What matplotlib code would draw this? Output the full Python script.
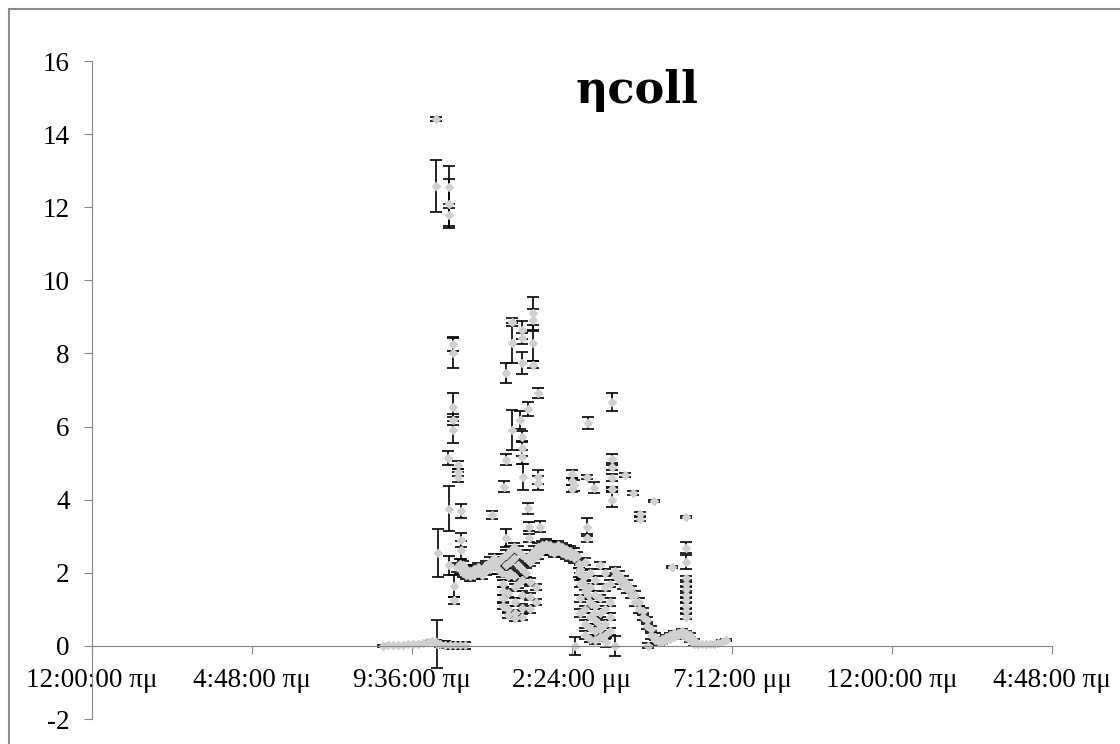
import matplotlib
matplotlib.use("Agg")
from matplotlib import pyplot as plt
from matplotlib.patches import Rectangle

plt.rcParams["font.family"] = "Liberation Serif"
plt.rcParams["font.size"] = 19.5
plt.rcParams["axes.unicode_minus"] = False

# time axis in hours from midnight, Excel style labels
tick_hours = [0, 4.8, 9.6, 14.4, 19.2, 24.0, 28.8]
tick_labels = ["12:00:00 πμ", "4:48:00 πμ", "9:36:00 πμ", "2:24:00 μμ",
               "7:12:00 μμ", "12:00:00 πμ", "4:48:00 πμ"]
y_ticks = [-2, 0, 2, 4, 6, 8, 10, 12, 14, 16]

# isolated readings (hour, ηcoll, error half width)
spot_h = [10.32, 10.32, 10.71, 10.71, 10.71, 10.83, 10.83, 10.83, 10.83, 10.83,
          10.68, 10.97, 10.97, 10.97, 10.71, 11.06, 10.38, 11.06, 11.06, 10.71,
          10.86, 10.86, 10.35, 12.00, 12.36, 12.42, 12.42, 12.42, 12.60, 12.60,
          12.60, 12.84, 12.90, 12.90, 12.90, 12.90, 12.90, 12.90, 12.93, 13.08,
          13.08, 13.11, 13.11, 13.23, 13.23, 13.23, 13.23, 13.38, 13.38, 13.38,
          13.43, 14.40, 14.40, 14.40, 14.46, 14.88, 14.85, 14.85, 14.85, 15.06,
          15.60, 15.60, 15.60, 15.60, 15.60, 15.60, 15.60, 15.98, 16.22, 16.43,
          16.43, 16.86, 17.82, 17.82, 17.82, 17.82, 17.82, 17.82, 17.82, 17.82,
          17.82, 17.82, 17.82, 17.40, 14.49, 15.69, 16.68]
spot_eta = [14.41, 12.58, 12.55, 12.10, 11.80, 8.26, 8.01, 6.54, 6.18, 5.91,
            5.14, 4.95, 4.75, 4.62, 3.75, 3.69, 2.54, 2.90, 2.63, 2.20,
            1.64, 1.25, 0.05, 3.58, 4.35, 7.47, 5.09, 2.95, 8.86, 8.29,
            5.91, 6.18, 8.64, 8.42, 7.74, 5.72, 5.40, 5.17, 4.62, 6.48,
            3.77, 3.26, 2.95, 9.10, 8.92, 8.29, 7.69, 6.92, 4.62, 4.46,
            3.26, 4.70, 4.50, 4.30, 4.40, 6.10, 4.62, 3.26, 2.95, 4.32,
            6.67, 5.10, 4.90, 4.60, 4.30, 4.28, 4.00, 4.68, 4.18, 3.60,
            3.47, 3.97, 3.53, 2.68, 2.30, 1.85, 1.70, 1.55, 1.40, 1.25,
            1.10, 0.95, 0.80, 2.16, 0.00, 0.00, 0.00]
spot_err = [0.05, 0.72, 0.58, 0.67, 0.30, 0.20, 0.40, 0.38, 0.15, 0.36,
            0.20, 0.12, 0.10, 0.15, 0.62, 0.18, 0.65, 0.20, 0.25, 0.25,
            0.30, 0.10, 0.65, 0.10, 0.15, 0.27, 0.15, 0.25, 0.12, 0.55,
            0.55, 0.25, 0.25, 0.15, 0.30, 0.15, 0.20, 0.20, 0.35, 0.18,
            0.15, 0.12, 0.12, 0.45, 0.30, 0.50, 0.10, 0.14, 0.20, 0.20,
            0.15, 0.12, 0.10, 0.10, 0.15, 0.17, 0.05, 0.25, 0.10, 0.15,
            0.25, 0.15, 0.10, 0.10, 0.05, 0.04, 0.20, 0.06, 0.06, 0.05,
            0.05, 0.03, 0.03, 0.15, 0.20, 0.06, 0.06, 0.06, 0.06, 0.06,
            0.06, 0.06, 0.06, 0.03, 0.25, 0.27, 0.07]

# scattered readings below the midday plateau
low_h = [12.33, 12.33, 12.33, 12.33, 12.48, 12.48, 12.48, 12.48,
         12.69, 12.69, 12.69, 12.69, 12.90, 12.90, 12.90, 12.90,
         13.14, 13.14, 13.14, 13.32, 13.32,
         14.64, 14.64, 14.64, 14.64, 14.79, 14.79, 14.79, 14.79, 14.79, 14.79,
         14.94, 14.94, 14.94, 14.94, 14.94, 14.94, 15.09, 15.09, 15.09, 15.09,
         15.09, 15.09, 15.24, 15.24, 15.24, 15.24, 15.24, 15.39, 15.39, 15.39,
         15.39, 15.39, 15.54, 15.54, 15.54, 15.54]
low_eta = [1.70, 1.50, 1.30, 1.10, 1.90, 1.45, 1.00, 0.85,
           1.60, 1.20, 0.90, 0.75, 1.80, 1.40, 1.05, 0.80,
           1.75, 1.35, 1.00, 1.60, 1.20,
           2.10, 1.70, 1.30, 0.90, 2.30, 1.90, 1.50, 1.00, 0.60, 0.30,
           2.00, 1.60, 1.20, 0.80, 0.50, 0.20, 1.80, 1.40, 1.10, 0.70,
           0.40, 0.15, 2.20, 1.30, 0.90, 0.50, 0.25, 2.00, 1.60, 1.00,
           0.60, 0.30, 1.70, 1.20, 0.80, 0.40]
low_err = [0.10, 0.10, 0.10, 0.08, 0.10, 0.10, 0.10, 0.08,
           0.10, 0.10, 0.08, 0.08, 0.10, 0.10, 0.10, 0.08,
           0.10, 0.10, 0.10, 0.08, 0.08,
           0.10, 0.10, 0.10, 0.10, 0.10, 0.10, 0.10, 0.10, 0.10, 0.10,
           0.10, 0.10, 0.10, 0.10, 0.10, 0.10, 0.10, 0.10, 0.10, 0.10,
           0.10, 0.10, 0.10, 0.10, 0.10, 0.10, 0.10, 0.10, 0.10, 0.10,
           0.10, 0.10, 0.10, 0.10, 0.10, 0.10]

# dense runs of readings (morning zero, plateau, evening decay, tail)
run_h = [8.73, 8.88, 9.03, 9.18, 9.33, 9.48, 9.63, 9.78, 9.93, 10.08,
         10.20, 10.32, 10.44, 10.59, 10.74, 10.89, 11.03, 11.18,
         10.94, 11.03, 11.03, 11.12, 11.12, 11.21, 11.21, 11.33, 11.33,
         11.46, 11.46, 11.58, 11.58, 11.70, 11.70, 11.82, 11.82, 11.94, 11.94,
         12.06, 12.06, 12.18, 12.18, 12.30, 12.30, 12.42, 12.42,
         12.54, 12.54, 12.54, 12.66, 12.66, 12.66, 12.78, 12.78, 12.78,
         12.90, 12.90, 12.90, 13.02, 13.02, 13.14, 13.14, 13.26, 13.26,
         13.38, 13.38, 13.49, 13.49, 13.61, 13.61, 13.73, 13.73, 13.85, 13.85,
         13.98, 13.98, 14.10, 14.10, 14.22, 14.22, 14.34, 14.34, 14.46, 14.46,
         14.55,
         14.61, 14.61, 14.70, 14.70, 14.79, 14.88, 14.97, 15.06, 15.15, 15.24,
         15.33, 15.42,
         15.69, 15.69, 15.81, 15.81, 15.93, 15.93, 16.04, 16.04, 16.16, 16.16,
         16.28, 16.28, 16.40, 16.40, 16.53, 16.53, 16.65, 16.65, 16.77, 16.77,
         16.89, 16.89, 17.01,
         17.10, 17.10, 17.22, 17.22, 17.34, 17.34, 17.46, 17.46, 17.58, 17.58,
         17.70, 17.70, 17.82, 17.82, 17.94, 17.94, 18.05, 18.05,
         18.17, 18.29, 18.41, 18.54, 18.66, 18.78, 18.90, 19.02]
run_eta = [0.00, 0.02, 0.02, 0.03, 0.03, 0.04, 0.05, 0.06, 0.08, 0.10,
           0.14, 0.12, 0.06, 0.03, 0.02, 0.02, 0.02, 0.02,
           2.15, 2.10, 2.25, 2.00, 2.20, 1.95, 2.10, 1.90, 2.05,
           1.95, 2.10, 2.00, 2.15, 1.95, 2.10, 2.05, 2.20, 2.10, 2.30,
           2.20, 2.40, 2.30, 2.10, 2.40, 2.00, 2.50, 2.20,
           2.60, 2.30, 2.00, 2.70, 2.40, 1.90, 2.60, 2.20, 1.70,
           2.50, 2.10, 1.80, 2.40, 2.00, 2.30, 2.50, 2.40, 2.60,
           2.50, 2.70, 2.60, 2.75, 2.65, 2.80, 2.60, 2.75, 2.55, 2.70,
           2.60, 2.75, 2.55, 2.70, 2.50, 2.65, 2.45, 2.60, 2.40, 2.55,
           2.45,
           2.25, 2.00, 1.95, 1.75, 1.65, 1.40, 1.15, 0.90, 0.65, 0.45,
           0.25, 0.10,
           2.05, 1.90, 1.95, 1.80, 1.80, 1.65, 1.70, 1.55, 1.55, 1.40,
           1.40, 1.20, 1.20, 1.00, 0.95, 0.80, 0.70, 0.55, 0.45, 0.30,
           0.25, 0.15, 0.10,
           0.10, 0.20, 0.15, 0.25, 0.20, 0.30, 0.25, 0.35, 0.30, 0.35,
           0.30, 0.40, 0.35, 0.25, 0.30, 0.15, 0.15, 0.05,
           0.05, 0.05, 0.05, 0.05, 0.06, 0.08, 0.12, 0.17]
run_err = [0.02, 0.02, 0.02, 0.02, 0.02, 0.02, 0.02, 0.02, 0.03, 0.03,
           0.03, 0.03, 0.08, 0.10, 0.10, 0.10, 0.10, 0.10,
           0.12, 0.12, 0.12, 0.12, 0.12, 0.12, 0.12, 0.12, 0.12,
           0.12, 0.12, 0.12, 0.12, 0.12, 0.12, 0.12, 0.12, 0.12, 0.12,
           0.12, 0.12, 0.12, 0.12, 0.12, 0.12, 0.12, 0.12,
           0.12, 0.12, 0.12, 0.12, 0.12, 0.12, 0.12, 0.12, 0.12,
           0.12, 0.12, 0.12, 0.12, 0.12, 0.12, 0.12, 0.12, 0.12,
           0.12, 0.12, 0.12, 0.12, 0.12, 0.12, 0.12, 0.12, 0.12, 0.12,
           0.12, 0.12, 0.12, 0.12, 0.12, 0.12, 0.12, 0.12, 0.12, 0.12,
           0.12,
           0.12, 0.12, 0.12, 0.12, 0.12, 0.12, 0.12, 0.12, 0.12, 0.12,
           0.12, 0.12,
           0.10, 0.10, 0.10, 0.10, 0.10, 0.10, 0.10, 0.10, 0.10, 0.10,
           0.10, 0.10, 0.10, 0.10, 0.10, 0.10, 0.10, 0.10, 0.10, 0.10,
           0.10, 0.10, 0.10,
           0.05, 0.05, 0.05, 0.05, 0.05, 0.05, 0.05, 0.05, 0.05, 0.05,
           0.05, 0.05, 0.05, 0.05, 0.05, 0.05, 0.05, 0.05,
           0.03, 0.03, 0.03, 0.03, 0.03, 0.03, 0.03, 0.03]

fig = plt.figure(figsize=(11.2, 7.44), dpi=100)
ax = fig.add_axes([92 / 1120, 0.0336, 960 / 1120, 0.8844])

gray = "#d0d0d0"
style = dict(fmt="D", ms=4, mfc=gray, mec=gray, ecolor="black",
             elinewidth=1.2, capsize=4, capthick=1.2)
for hh, ee, rr in [(run_h, run_eta, run_err), (low_h, low_eta, low_err),
                   (spot_h, spot_eta, spot_err)]:
    ax.errorbar(hh, ee, yerr=rr, **style)

axis_gray = "#868686"
ax.spines["top"].set_visible(False)
ax.spines["right"].set_visible(False)
ax.spines["left"].set_color(axis_gray)
ax.spines["bottom"].set_color(axis_gray)
ax.spines["bottom"].set_position(("data", 0))

ax.set_xlim(0, 28.8)
ax.set_ylim(-2, 16)
ax.set_xticks(tick_hours)
ax.set_xticklabels(tick_labels)
ax.set_yticks(y_ticks)
ax.tick_params(axis="both", direction="out", length=6, color=axis_gray,
               pad=10, labelsize=19.5)

fig.text(0.569, 1 - 103 / 744, "ηcoll", ha="center", va="baseline",
         fontsize=32, fontweight="bold", family="DejaVu Serif")

fig.patches.append(Rectangle((9 / 1120, -0.1), 1.2, 0.1 + 735 / 744,
                             transform=fig.transFigure, fill=False,
                             ec="#8c8c8c", lw=1.5))

fig.savefig("out.png", dpi=100)
